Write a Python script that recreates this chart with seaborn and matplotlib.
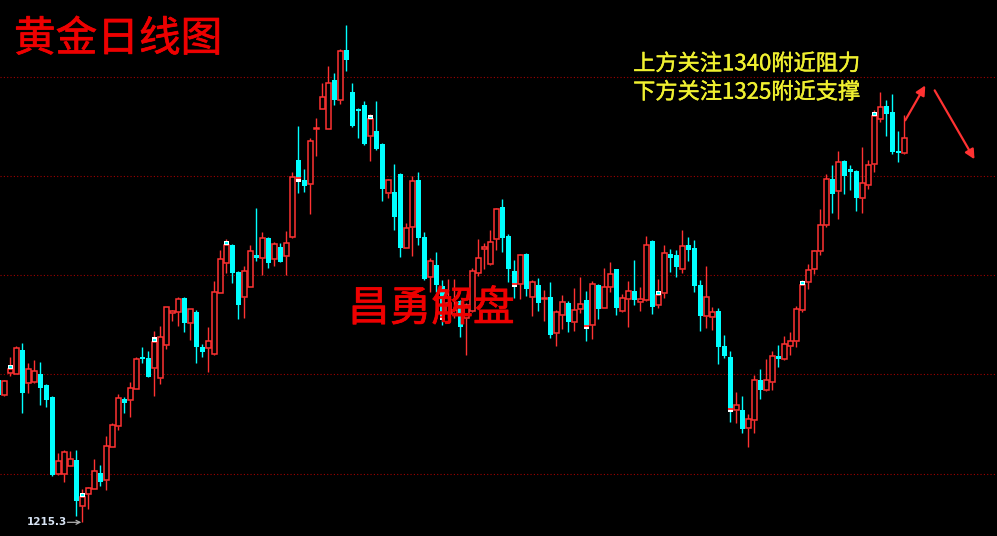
import numpy as np
import pandas as pd
import seaborn as sns
import matplotlib.pyplot as plt
import matplotlib.patheffects as pe

# daily candles, oldest first (first one is cut by the left edge)
opens = [1258.3, 1253.8, 1260.4, 1260.0, 1267.4, 1257.3, 1257.6, 1260.1, 1256.8, 1253.2,
         1229.9, 1230.0, 1232.4, 1234.1, 1220.3, 1223.9, 1225.5, 1230.1, 1228.0, 1238.2,
         1244.5, 1252.6, 1252.4, 1255.7, 1265.4, 1265.0, 1262.0, 1259.0, 1269.0, 1278.7,
         1278.8, 1283.1, 1275.5, 1278.9, 1268.3, 1268.1, 1266.1, 1284.7, 1293.6, 1299.1,
         1291.1, 1283.3, 1286.5, 1296.1, 1295.1, 1301.2, 1294.8, 1298.5, 1295.7, 1301.6,
         1324.8, 1318.8, 1317.7, 1334.2, 1340.3, 1334.3, 1349.0, 1343.1, 1358.1, 1345.4,
         1340.1, 1341.5, 1332.2, 1333.6, 1329.7, 1314.9, 1315.2, 1320.6, 1298.3, 1304.7,
         1318.8, 1301.5, 1289.4, 1293.1, 1286.7, 1278.6, 1278.3, 1282.2, 1277.1, 1279.2,
         1290.6, 1297.9, 1293.3, 1300.9, 1310.6, 1301.9, 1291.3, 1287.3, 1296.4, 1283.5,
         1286.9, 1282.7, 1283.4, 1272.4, 1278.1, 1281.6, 1275.8, 1279.7, 1282.5, 1274.9,
         1287.0, 1280.2, 1286.5, 1291.9, 1279.2, 1282.9, 1285.2, 1282.0, 1282.5, 1300.3,
         1281.0, 1284.7, 1296.4, 1296.1, 1291.9, 1299.1, 1298.2, 1287.0, 1277.7, 1277.4,
         1279.2, 1268.6, 1265.3, 1249.3, 1249.3, 1243.8, 1246.2, 1258.3, 1255.3, 1257.7,
         1265.6, 1264.7, 1268.6, 1270.1, 1279.5, 1287.9, 1292.0, 1297.4, 1305.3, 1319.1,
         1315.5, 1324.5, 1322.1, 1321.5, 1313.4, 1317.4, 1323.7, 1337.3, 1341.2, 1339.3,
         1327.6, 1327.0]
highs = [1258.9, 1258.3, 1265.3, 1268.7, 1269.6, 1263.6, 1264.4, 1263.8, 1257.0, 1253.5,
         1236.2, 1237.2, 1236.9, 1237.2, 1225.4, 1226.1, 1234.4, 1232.6, 1241.4, 1245.3,
         1254.1, 1253.3, 1257.8, 1265.3, 1268.4, 1267.2, 1273.1, 1274.7, 1280.5, 1279.4,
         1283.5, 1283.3, 1279.9, 1279.5, 1269.3, 1274.3, 1288.2, 1297.6, 1300.9, 1299.4,
         1291.4, 1292.8, 1299.1, 1310.3, 1303.0, 1301.5, 1300.0, 1299.6, 1303.4, 1321.2,
         1335.1, 1322.1, 1331.5, 1337.5, 1348.1, 1353.2, 1351.1, 1358.5, 1365.6, 1348.1,
         1340.4, 1342.7, 1338.7, 1342.7, 1330.0, 1319.0, 1323.6, 1320.8, 1305.8, 1320.0,
         1321.2, 1303.1, 1295.1, 1297.0, 1288.6, 1288.9, 1288.9, 1282.5, 1281.6, 1292.2,
         1300.9, 1299.7, 1303.7, 1310.2, 1313.0, 1302.4, 1294.6, 1296.3, 1296.6, 1288.6,
         1289.2, 1285.5, 1287.9, 1279.5, 1284.0, 1282.2, 1286.1, 1289.5, 1285.2, 1288.2,
         1287.2, 1292.2, 1294.0, 1292.0, 1284.3, 1288.2, 1294.6, 1286.4, 1301.9, 1300.5,
         1288.9, 1299.1, 1297.9, 1297.6, 1303.7, 1301.5, 1300.6, 1288.6, 1292.8, 1280.4,
         1280.1, 1271.9, 1267.1, 1254.7, 1253.5, 1248.0, 1259.8, 1261.6, 1264.7, 1267.1,
         1268.9, 1271.6, 1272.8, 1280.7, 1288.6, 1293.4, 1297.6, 1310.0, 1320.6, 1323.3,
         1327.5, 1324.8, 1323.3, 1321.8, 1328.8, 1324.8, 1339.9, 1345.4, 1343.0, 1344.8,
         1333.6, 1338.4]
lows = [1252.9, 1253.5, 1259.5, 1260.0, 1248.3, 1254.5, 1257.4, 1250.9, 1250.2, 1229.3,
        1229.7, 1227.6, 1232.3, 1217.3, 1215.3, 1219.3, 1225.4, 1226.3, 1225.1, 1238.1,
        1243.2, 1248.4, 1247.2, 1255.6, 1263.4, 1259.2, 1253.6, 1257.1, 1267.6, 1276.2,
        1274.7, 1272.9, 1270.4, 1263.6, 1265.4, 1260.8, 1266.0, 1284.6, 1290.6, 1287.7,
        1276.9, 1277.2, 1286.4, 1294.3, 1290.1, 1292.1, 1292.9, 1294.0, 1290.1, 1301.3,
        1314.9, 1315.2, 1308.5, 1326.1, 1340.2, 1334.2, 1341.5, 1341.8, 1351.8, 1334.8,
        1331.6, 1329.4, 1324.6, 1327.8, 1312.5, 1313.4, 1303.8, 1295.6, 1298.2, 1295.9,
        1299.2, 1288.6, 1285.0, 1285.0, 1274.9, 1277.1, 1277.1, 1271.3, 1265.9, 1279.0,
        1289.8, 1291.8, 1293.2, 1297.6, 1297.1, 1288.0, 1283.0, 1282.8, 1283.7, 1277.7,
        1279.3, 1276.2, 1271.0, 1268.6, 1273.8, 1272.9, 1273.1, 1278.5, 1270.2, 1270.8,
        1276.8, 1280.1, 1284.9, 1278.0, 1278.9, 1274.4, 1281.0, 1279.3, 1282.3, 1278.3,
        1280.1, 1283.1, 1291.0, 1289.5, 1290.7, 1294.3, 1284.9, 1273.1, 1274.0, 1273.4,
        1263.2, 1265.0, 1245.6, 1245.3, 1242.3, 1238.1, 1242.3, 1252.6, 1255.0, 1255.3,
        1262.3, 1264.4, 1265.9, 1268.3, 1278.9, 1285.8, 1290.5, 1296.2, 1304.7, 1308.9,
        1307.1, 1314.6, 1315.8, 1309.5, 1308.9, 1316.2, 1321.3, 1336.4, 1332.2, 1326.6,
        1324.2, 1326.6]
closes = [1253.8, 1258.0, 1261.6, 1267.9, 1254.5, 1261.6, 1261.0, 1256.0, 1252.4, 1229.6,
          1233.8, 1236.6, 1234.4, 1221.8, 1223.0, 1225.7, 1230.7, 1227.6, 1238.4, 1244.6,
          1252.8, 1251.4, 1255.8, 1264.6, 1264.7, 1259.3, 1269.9, 1271.2, 1280.3, 1279.2,
          1282.8, 1275.6, 1279.7, 1268.4, 1266.9, 1270.0, 1284.8, 1294.8, 1299.1, 1290.8,
          1281.0, 1291.2, 1297.2, 1295.3, 1301.2, 1293.8, 1299.3, 1294.1, 1299.6, 1319.6,
          1319.6, 1317.0, 1330.5, 1334.6, 1343.9, 1348.1, 1343.0, 1357.8, 1355.1, 1335.1,
          1339.7, 1329.7, 1337.1, 1328.2, 1316.2, 1318.8, 1307.7, 1298.3, 1304.3, 1318.5,
          1301.3, 1288.9, 1294.2, 1287.0, 1277.7, 1281.6, 1279.5, 1274.3, 1281.0, 1291.3,
          1295.2, 1298.5, 1299.9, 1310.0, 1301.3, 1292.0, 1287.6, 1296.1, 1285.7, 1287.9,
          1281.7, 1283.1, 1271.9, 1278.8, 1281.9, 1275.9, 1279.5, 1281.3, 1274.9, 1287.3,
          1279.8, 1286.4, 1290.4, 1280.2, 1283.1, 1285.2, 1282.5, 1282.7, 1299.1, 1280.4,
          1284.0, 1296.7, 1295.3, 1292.5, 1298.8, 1297.6, 1286.7, 1277.7, 1283.4, 1278.9,
          1268.3, 1265.6, 1249.9, 1250.8, 1243.5, 1246.5, 1258.3, 1255.3, 1258.3, 1265.6,
          1264.7, 1269.2, 1270.1, 1279.8, 1287.0, 1291.6, 1297.3, 1305.2, 1319.1, 1314.6,
          1324.2, 1320.1, 1321.2, 1313.4, 1317.9, 1323.3, 1338.1, 1340.8, 1338.7, 1327.2,
          1327.0, 1331.5]

grid_levels = [1230, 1260, 1290, 1320, 1350]
flag_every = 12          # small marker drawn on every 12th bar
title = "黄金日线图"
watermark = "昌勇解盘"
note_lines = ["上方关注1340附近阻力", "下方关注1325附近支撑"]

RED = "#ff3232"
CYAN = "#00ffff"

df = pd.DataFrame({"open": opens, "high": highs, "low": lows, "close": closes})
df["idx"] = np.arange(len(df)) - 1
df["up"] = df["close"] >= df["open"]

sns.set_theme(style="dark", rc={"axes.facecolor": "black", "figure.facecolor": "black"})
plt.rcParams["font.family"] = ["Noto Sans CJK SC", "DejaVu Sans"]

fig = plt.figure(figsize=(9.97, 5.36), dpi=100)
ax = fig.add_axes([0, 0, 1, 1])
ax.set_facecolor("black")

for lv in grid_levels:
    ax.axhline(lv, color="#a00000", lw=0.8, ls=(0, (1, 2)), zorder=1)

up = df[df["up"]]
dn = df[~df["up"]]

# down bars: filled cyan with full wick
ax.vlines(dn["idx"], dn["low"], dn["high"], color=CYAN, lw=1, zorder=2)
ax.bar(dn["idx"], dn["close"] - dn["open"], bottom=dn["open"], width=0.8,
       color=CYAN, linewidth=0, zorder=3)

# up bars: hollow red, wick stops at the body
ax.vlines(up["idx"], up["close"], up["high"], color=RED, lw=1, zorder=2)
ax.vlines(up["idx"], up["low"], up["open"], color=RED, lw=1, zorder=2)
ax.bar(up["idx"], up["close"] - up["open"], bottom=up["open"], width=0.68,
       facecolor="black", edgecolor=RED, linewidth=1.1, zorder=3)

# periodic flags at the close
for _, r in df[(df["idx"] - 1) % flag_every == 0].iterrows():
    if r["up"]:
        ax.bar(r["idx"], 1.3, bottom=r["close"], width=0.8, color="white", lw=0, zorder=4)
        ax.bar(r["idx"], 0.5, bottom=r["close"] + 0.35, width=0.4, color=CYAN, lw=0, zorder=5)
    else:
        ax.bar(r["idx"], -0.65, bottom=r["close"], width=0.8, color=RED, lw=0, zorder=4)
        ax.bar(r["idx"], -0.65, bottom=r["close"] - 0.65, width=0.8, color="white", lw=0, zorder=4)

ax.set_xlim(-0.75, 165.42)
ax.set_ylim(1211.16, 1373.19)
ax.axis("off")

# lowest point label
imin = int(df.loc[df["low"].idxmin(), "idx"])
lmin = df["low"].min()
ax.annotate("", xy=(imin - 0.2, lmin), xytext=(-10, 0), textcoords="offset points",
            arrowprops=dict(arrowstyle="->", color="#b0b0b0", lw=0.9, mutation_scale=7,
                            shrinkA=0, shrinkB=0), zorder=6)
ax.annotate(f"{lmin:.1f}", xy=(imin, lmin), xytext=(-11, 0), textcoords="offset points",
            ha="right", va="center", fontsize=7.5, fontweight="bold", color="#d8e4f4",
            family="DejaVu Sans", zorder=6)

# expected path arrows
ax.annotate("", xy=(153.7, 1348.1), xytext=(149.9, 1336.1),
            arrowprops=dict(arrowstyle="-|>", color=RED, lw=1.6, mutation_scale=14))
ax.annotate("", xy=(161.9, 1324.3), xytext=(154.8, 1346.6),
            arrowprops=dict(arrowstyle="-|>", color=RED, lw=1.6, mutation_scale=14))

# medium-weight look: regular glyphs with a thin stroke of the same colour
red_fx = [pe.withStroke(linewidth=0.5, foreground="#ee0000")]
yel_fx = [pe.withStroke(linewidth=0.3, foreground="#f0f030")]
ax.text(0.014, 0.926, title, transform=ax.transAxes, fontsize=30, color="#ee0000",
        va="center", ha="left", zorder=7, path_effects=red_fx)
ax.text(0.349, 0.423, watermark, transform=ax.transAxes, fontsize=30, color="#ee0000",
        va="center", ha="left", zorder=7, path_effects=red_fx)
ax.text(0.635, 0.881, note_lines[0], transform=ax.transAxes, fontsize=16, color="#f0f030",
        va="center", ha="left", zorder=7, path_effects=yel_fx)
ax.text(0.635, 0.828, note_lines[1], transform=ax.transAxes, fontsize=16, color="#f0f030",
        va="center", ha="left", zorder=7, path_effects=yel_fx)

fig.savefig("out.png", dpi=100, facecolor="black")
